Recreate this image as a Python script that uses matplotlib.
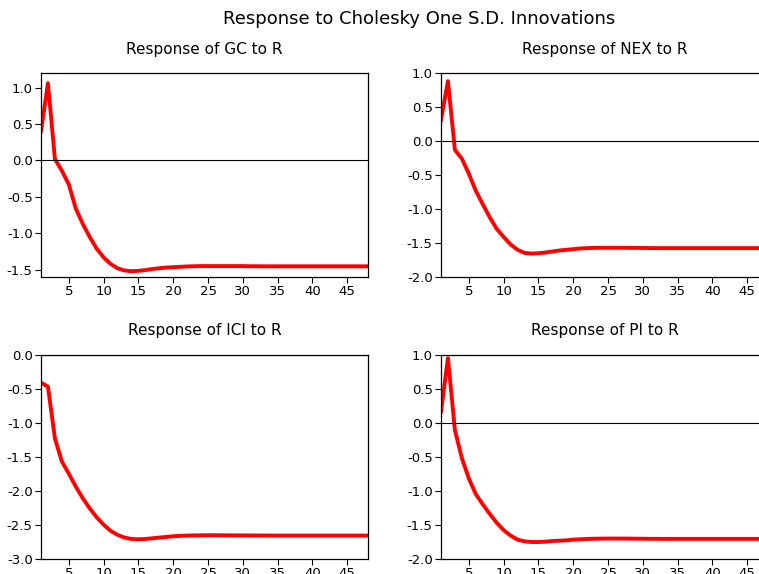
import matplotlib.pyplot as plt

plt.rcParams['font.family'] = ['DejaVu Sans']

periods = list(range(1, 49))

# response of GC to R
gc = [0.40, 1.06, 0.02, -0.14, -0.33, -0.66, -0.87, -1.05, -1.21, -1.33,
      -1.42, -1.48, -1.51, -1.52, -1.515, -1.505, -1.49, -1.48, -1.47, -1.465,
      -1.46, -1.455, -1.452, -1.45, -1.45, -1.45, -1.45, -1.45, -1.45, -1.45,
      -1.452, -1.452, -1.453, -1.453, -1.453, -1.453, -1.453, -1.453, -1.453, -1.453,
      -1.453, -1.453, -1.453, -1.453, -1.453, -1.453, -1.453, -1.453]

# response of NEX to R
nex = [0.31, 0.88, -0.13, -0.26, -0.48, -0.73, -0.93, -1.12, -1.29, -1.41,
       -1.52, -1.60, -1.645, -1.655, -1.65, -1.64, -1.625, -1.61, -1.60, -1.59,
       -1.58, -1.575, -1.572, -1.57, -1.57, -1.57, -1.57, -1.571, -1.572, -1.573,
       -1.574, -1.575, -1.575, -1.575, -1.575, -1.575, -1.575, -1.575, -1.575, -1.575,
       -1.575, -1.575, -1.575, -1.575, -1.575, -1.575, -1.575, -1.575]

# response of ICI to R
ici = [-0.41, -0.47, -1.23, -1.57, -1.75, -1.94, -2.11, -2.26, -2.39, -2.50,
       -2.59, -2.65, -2.69, -2.71, -2.715, -2.71, -2.70, -2.69, -2.68, -2.67,
       -2.665, -2.66, -2.658, -2.656, -2.655, -2.655, -2.656, -2.657, -2.657, -2.658,
       -2.658, -2.659, -2.659, -2.66, -2.66, -2.66, -2.66, -2.66, -2.66, -2.66,
       -2.66, -2.66, -2.66, -2.66, -2.66, -2.66, -2.66, -2.66]

# response of PI to R
pi = [0.16, 0.95, -0.11, -0.52, -0.82, -1.05, -1.20, -1.34, -1.47, -1.58,
      -1.66, -1.72, -1.745, -1.755, -1.755, -1.75, -1.74, -1.735, -1.73, -1.72,
      -1.715, -1.71, -1.707, -1.705, -1.704, -1.704, -1.704, -1.705, -1.706, -1.707,
      -1.708, -1.708, -1.709, -1.709, -1.709, -1.709, -1.709, -1.709, -1.709, -1.709,
      -1.709, -1.709, -1.709, -1.709, -1.709, -1.709, -1.709, -1.709]

titles = ['Response of GC to R', 'Response of NEX to R',
          'Response of ICI to R', 'Response of PI to R']
series = [gc, nex, ici, pi]
ylims = [(-1.6, 1.2), (-2.0, 1.0), (-3.0, 0.0), (-2.0, 1.0)]
yticks = [[-1.5, -1.0, -0.5, 0.0, 0.5, 1.0],
          [-2.0, -1.5, -1.0, -0.5, 0.0, 0.5, 1.0],
          [-3.0, -2.5, -2.0, -1.5, -1.0, -0.5, 0.0],
          [-2.0, -1.5, -1.0, -0.5, 0.0, 0.5, 1.0]]
xticks = [5, 10, 15, 20, 25, 30, 35, 40, 45]

fig = plt.figure(figsize=(7.59, 5.74), dpi=100)
fig.text(0.552, 0.967, 'Response to Cholesky One S.D. Innovations',
         ha='center', va='center', fontsize=13)

w, h = 0.431, 0.3554
boxes = [(0.054, 0.5174), (0.581, 0.5174), (0.054, 0.0267), (0.581, 0.0267)]

for i, (l, b) in enumerate(boxes):
    ax = fig.add_axes([l, b, w, h])
    ax.plot(periods, series[i], color='#ff0000', lw=2.8, solid_joinstyle='round')
    ax.axhline(0, color='black', lw=0.8)
    ax.set_xlim(1, 48)
    ax.set_ylim(*ylims[i])
    ax.set_yticks(yticks[i])
    ax.set_yticklabels(['%.1f' % v for v in yticks[i]])
    ax.set_xticks(xticks)
    ax.tick_params(direction='out', length=4, width=0.8, labelsize=9.5,
                   colors='black', pad=2)
    for s in ax.spines.values():
        s.set_linewidth(0.9)
    ax.set_title(titles[i], fontsize=11, pad=14)

fig.savefig('out.png', dpi=100)
